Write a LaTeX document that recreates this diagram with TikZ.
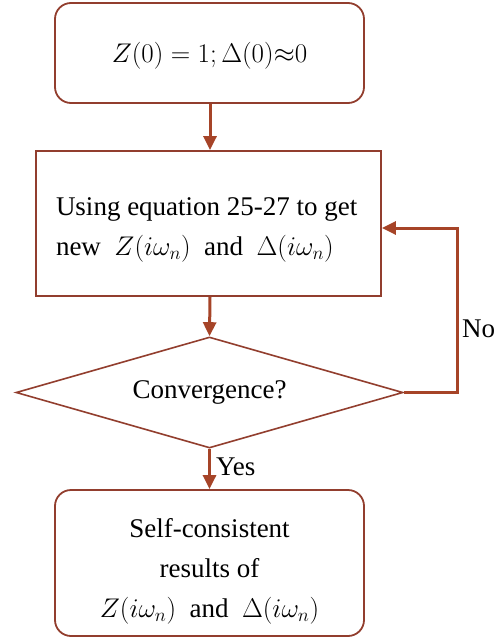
\RequirePackage{fix-cm}
\documentclass[tikz,border=0pt]{standalone}
\usepackage[no-math]{fontspec}
\setmainfont{Liberation Serif}
\usetikzlibrary{shapes.geometric,arrows.meta}
\definecolor{boxcol}{RGB}{146,62,46}
\definecolor{arrcol}{RGB}{166,68,40}
\begin{document}
\begin{tikzpicture}[x=1pt,y=-1pt,
  font=\fontsize{27}{40}\selectfont,
  roundbox/.style={draw=boxcol,line width=1.8pt,rounded corners=16pt,inner sep=0pt,align=center},
  sqbox/.style={draw=boxcol,line width=1.8pt,inner sep=0pt,align=left},
  decision/.style={draw=boxcol,line width=1.6pt,shape=diamond,aspect=3.49,inner sep=0pt,minimum width=387pt,minimum height=111pt},
  flow/.style={draw=arrcol,line width=3pt,-{Triangle[length=14pt,width=13pt]}},
  lbl/.style={inner sep=0pt,anchor=west}]
\useasboundingbox (0,0) rectangle (494,639);
\node[roundbox,minimum width=309pt,minimum height=100pt] (start) at (209.5,53) {\raisebox{-10pt}[0pt][0pt]{$Z(0)=1;\Delta(0){\approx}0$}};
\node[sqbox,minimum width=345pt,minimum height=145pt] (calc) at (208.5,223.5) {\raisebox{8.5pt}[0pt][0pt]{\parbox[t]{305pt}{Using equation 25-27 to get\\new\ \ $Z(i\omega_n)$\ \ and\ \ $\Delta(i\omega_n)$}}};
\node[decision] (conv) at (209.5,392.5) {Convergence?};
\node[roundbox,minimum width=309pt,minimum height=146pt] (res) at (209.5,563) {\raisebox{26pt}[0pt][0pt]{\parbox[t]{300pt}{\centering Self-consistent\\results of\\$Z(i\omega_n)$\ \ and\ \ $\Delta(i\omega_n)$}}};
\coordinate (nc) at (457,228);
\draw[flow] (start.south -| 210,0) -- (calc.north -| 210,0);
\draw[flow] (calc.south -| 210,0) -- (conv.north);
\draw[flow] (conv.south) -- (res.north);
\draw[flow] (conv.east) -| (nc) -- (calc.east |- nc);
\node[lbl] (no) at (462,329) {No};
\node[lbl] (yes) at (216,467) {Yes};
\end{tikzpicture}
\end{document}
